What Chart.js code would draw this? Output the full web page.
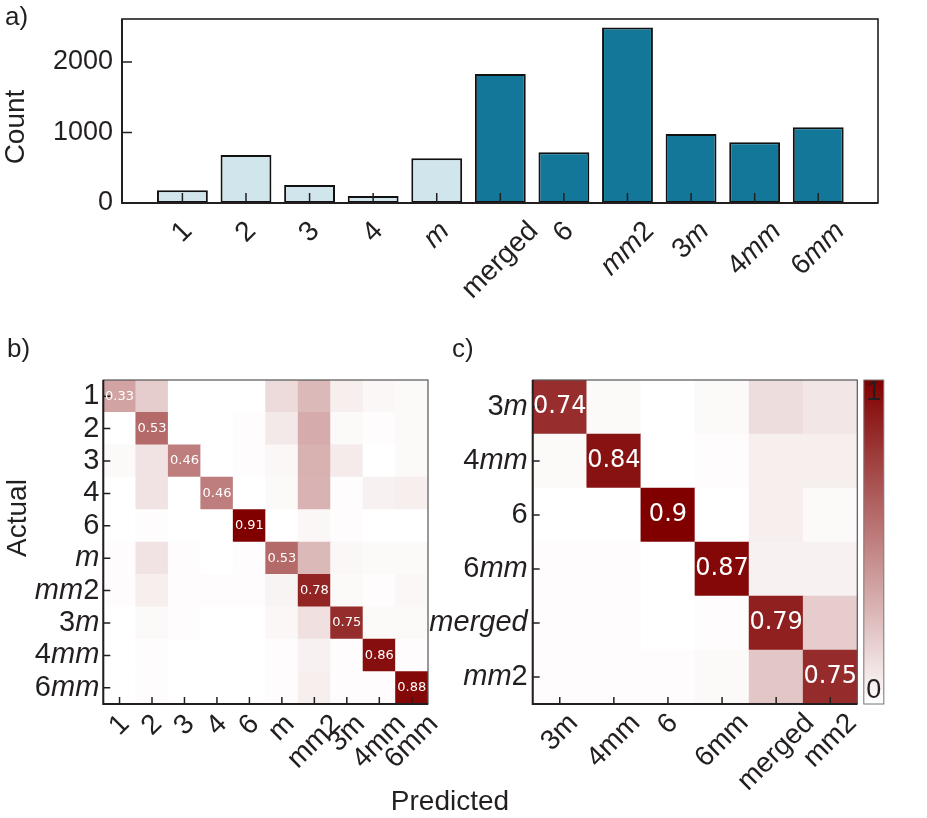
<!DOCTYPE html>
<html>
<head>
<meta charset="utf-8">
<script src="https://cdn.jsdelivr.net/npm/chart.js@4.4.0/dist/chart.umd.min.js"></script>
<style>
  html, body { margin: 0; padding: 0; background: #fff; }
  #wrap { position: relative; width: 927px; height: 818px; }
  canvas { position: absolute; }
</style>
</head>
<body>
<div id="wrap">
  <canvas id="bars" width="927" height="300" style="left:0;top:0"></canvas>
  <canvas id="cmAll" width="927" height="488" style="left:0;top:330px"></canvas>
  <canvas id="cmMerged" width="547" height="488" style="left:380px;top:330px"></canvas>
</div>
<script>
// panel a: class counts
const groups = ['1', '2', '3', '4', 'm', 'merged', '6', 'mm2', '3m', '4mm', '6mm'];
const counts = [180, 680, 255, 100, 635, 1830, 720, 2490, 980, 860, 1075];
const nLight = 5; // the first five classes end up in "merged"
const countTicks = [0, 1000, 2000];

// panel b: confusion matrix, all classes (rows = actual, cols = predicted)
const classesAll = ['1', '2', '3', '4', '6', 'm', 'mm2', '3m', '4mm', '6mm'];
const cmAll = [
  [0.33, 0.18, 0.00, 0.00, 0.00, 0.13, 0.25, 0.06, 0.03, 0.02],
  [0.00, 0.53, 0.00, 0.00, 0.01, 0.08, 0.30, 0.02, 0.01, 0.02],
  [0.02, 0.10, 0.46, 0.00, 0.01, 0.03, 0.28, 0.07, 0.00, 0.02],
  [0.00, 0.10, 0.00, 0.46, 0.00, 0.02, 0.27, 0.01, 0.05, 0.06],
  [0.00, 0.01, 0.00, 0.00, 0.91, 0.00, 0.03, 0.01, 0.00, 0.00],
  [0.01, 0.10, 0.01, 0.00, 0.01, 0.53, 0.25, 0.03, 0.02, 0.02],
  [0.01, 0.06, 0.01, 0.01, 0.01, 0.04, 0.78, 0.02, 0.01, 0.03],
  [0.00, 0.02, 0.01, 0.00, 0.00, 0.03, 0.11, 0.75, 0.02, 0.02],
  [0.00, 0.01, 0.00, 0.00, 0.00, 0.01, 0.05, 0.01, 0.86, 0.01],
  [0.00, 0.01, 0.00, 0.00, 0.00, 0.01, 0.06, 0.01, 0.01, 0.88]
];

// panel c: confusion matrix with the low-count classes merged
const classesMerged = ['3m', '4mm', '6', '6mm', 'merged', 'mm2'];
const cmMerged = [
  [0.74, 0.02, 0.00, 0.02, 0.12, 0.09],
  [0.02, 0.84, 0.00, 0.01, 0.06, 0.06],
  [0.00, 0.00, 0.90, 0.00, 0.06, 0.02],
  [0.01, 0.01, 0.00, 0.87, 0.05, 0.05],
  [0.01, 0.01, 0.00, 0.01, 0.79, 0.18],
  [0.01, 0.01, 0.01, 0.02, 0.20, 0.75]
];

const FONT = '"Liberation Sans", Arial, sans-serif';
const NUM_FONT = '"DejaVu Sans", sans-serif';
const INK = '#231f20';
const LIGHT = '#d1e5ec';
const DARK = '#127799';

function heat(v, vmax) {
  const t = Math.min(v / vmax, 1);
  const r = Math.round(255 - t * 127);
  const g = Math.round(255 * (1 - t));
  return 'rgb(' + r + ',' + g + ',' + g + ')';
}

// letters italic, digits upright (like $mm$2)
function splitLabel(text, italic) {
  if (!italic) return [{ t: text, i: false }];
  return text.match(/[A-Za-z]+|[^A-Za-z]+/g).map(t => ({ t, i: /[A-Za-z]/.test(t) }));
}
function segWidth(ctx, segs, size) {
  let w = 0;
  segs.forEach(s => { ctx.font = (s.i ? 'italic ' : '') + size + 'px ' + FONT; w += ctx.measureText(s.t).width; });
  return w;
}
function drawSegs(ctx, segs, x, y, size) {
  ctx.textAlign = 'left';
  segs.forEach(s => {
    ctx.font = (s.i ? 'italic ' : '') + size + 'px ' + FONT;
    ctx.fillText(s.t, x, y);
    x += ctx.measureText(s.t).width;
  });
}
// rotated 45 deg, bounding box centred on the tick, top at `top`
function rotLabel(ctx, text, italic, cx, top, size) {
  const segs = splitLabel(text, italic);
  const w = segWidth(ctx, segs, size);
  const side = (w + size) * Math.SQRT1_2;
  ctx.save();
  ctx.translate(cx, top + side / 2);
  ctx.rotate(-Math.PI / 4);
  ctx.textBaseline = 'middle';
  drawSegs(ctx, segs, -w / 2, 0, size);
  ctx.restore();
}
function plainText(ctx, text, x, y, size, align, rot) {
  ctx.save();
  ctx.translate(x, y);
  if (rot) ctx.rotate(rot);
  ctx.font = size + 'px ' + FONT;
  ctx.textAlign = align || 'left';
  ctx.textBaseline = rot ? 'middle' : 'alphabetic';
  ctx.fillText(text, 0, 0);
  ctx.restore();
}

// matplotlib-like axes: inward ticks, frame, tick labels
function mplAxes(o) {
  return {
    id: 'mplAxes',
    afterDatasetsDraw(chart) {
      const { ctx, chartArea: a } = chart;
      const xs = chart.scales.x, ys = chart.scales.y;
      ctx.save();
      ctx.strokeStyle = INK;
      ctx.fillStyle = INK;
      ctx.lineWidth = 1.5;
      ctx.beginPath();
      o.xTicks.forEach(v => { const px = xs.getPixelForValue(v); ctx.moveTo(px, a.bottom); ctx.lineTo(px, a.bottom - o.tickLen); });
      o.yTicks.forEach(v => { const py = ys.getPixelForValue(v); ctx.moveTo(a.left, py); ctx.lineTo(a.left + o.tickLen, py); });
      ctx.stroke();

      ctx.strokeStyle = o.frameColor;
      ctx.lineWidth = o.frameWidth;
      ctx.strokeRect(a.left, a.top, a.width, a.height);
      ctx.strokeStyle = INK;
      ctx.lineWidth = 2;
      ctx.beginPath();
      ctx.moveTo(a.left, a.top); ctx.lineTo(a.left, a.bottom); ctx.lineTo(a.right, a.bottom);
      ctx.stroke();

      o.xTicks.forEach((v, i) => {
        rotLabel(ctx, o.xLabels[i], o.xItalic(o.xLabels[i]), xs.getPixelForValue(v), a.bottom + o.xPad, o.xSize);
      });
      ctx.textBaseline = 'middle';
      o.yTicks.forEach((v, i) => {
        const segs = splitLabel(o.yLabels[i], o.yItalic);
        const w = segWidth(ctx, segs, o.ySize);
        drawSegs(ctx, segs, a.left - o.yPad - w, ys.getPixelForValue(v), o.ySize);
      });
      if (o.extra) o.extra(chart, ctx, a, xs, ys);
      ctx.restore();
    }
  };
}

const baseOpts = {
  responsive: false,
  animation: false,
  events: [],
  plugins: { legend: { display: false }, tooltip: { enabled: false } }
};

// ---- a) bar chart
new Chart(document.getElementById('bars'), {
  type: 'bar',
  data: {
    datasets: [{
      data: counts.map((v, i) => ({ x: i, y: v })),
      backgroundColor: counts.map((v, i) => i < nLight ? LIGHT : DARK),
      borderColor: '#111',
      borderWidth: 2,
      borderSkipped: false,
      categoryPercentage: 0.8,
      barPercentage: 1
    }]
  },
  options: Object.assign({}, baseOpts, {
    layout: { padding: { left: 122, right: 49, top: 19, bottom: 97 } },
    scales: {
      x: { type: 'linear', display: false, offset: false, min: -0.95, max: 10.94,
           afterBuildTicks: s => { s.ticks = groups.map((g, i) => ({ value: i })); } },
      y: { type: 'linear', display: false, min: 0, max: 2610,
           afterBuildTicks: s => { s.ticks = countTicks.map(v => ({ value: v })); } }
    }
  }),
  plugins: [mplAxes({
    xTicks: groups.map((g, i) => i), xLabels: groups, xItalic: t => t !== 'merged', xSize: 28, xPad: 14,
    yTicks: countTicks, yLabels: countTicks.map(String), yItalic: false, ySize: 27, yPad: 9,
    tickLen: 10, frameColor: '#111', frameWidth: 1.5,
    extra(chart, ctx) {
      plainText(ctx, 'a)', 5, 25, 26);
      plainText(ctx, 'Count', 16, 127, 28, 'center', -Math.PI / 2);
    }
  })]
});

// ---- b) and c) heatmaps from floating bars
function heatChart(id, classes, matrix, padding, axesOpts) {
  const n = classes.length;
  const vmax = Math.max(...matrix.flat());
  const cells = matrix.flatMap((row, r) => row.map((v, c) => ({ x: c, y: [r - 0.5, r + 0.5], v })));
  const idx = classes.map((c, i) => i);
  return new Chart(document.getElementById(id), {
    type: 'bar',
    data: {
      datasets: [{
        data: cells,
        backgroundColor: ctx => heat(ctx.raw ? ctx.raw.v : 0, vmax),
        borderWidth: 0,
        categoryPercentage: 1,
        barPercentage: 1,
        grouped: false
      }]
    },
    options: Object.assign({}, baseOpts, {
      layout: { padding },
      scales: {
        x: { type: 'linear', display: false, offset: false, min: -0.5, max: n - 0.5,
             afterBuildTicks: s => { s.ticks = idx.map(v => ({ value: v })); } },
        y: { type: 'linear', display: false, min: -0.5, max: n - 0.5, reverse: true,
             afterBuildTicks: s => { s.ticks = idx.map(v => ({ value: v })); } }
      }
    }),
    plugins: [mplAxes(Object.assign({
      xTicks: idx, xLabels: classes, xItalic: () => false,
      yTicks: idx, yLabels: classes, yItalic: true,
      tickLen: 7, frameColor: '#555', frameWidth: 1.2
    }, axesOpts))]
  });
}

function annotateDiag(ctx, matrix, xs, ys, size) {
  ctx.fillStyle = '#fff';
  ctx.font = size + 'px ' + NUM_FONT;
  ctx.textAlign = 'center';
  ctx.textBaseline = 'middle';
  matrix.forEach((row, i) => {
    ctx.fillText(String(Math.round(row[i] * 100) / 100), xs.getPixelForValue(i), ys.getPixelForValue(i));
  });
}

heatChart('cmAll', classesAll, cmAll, { left: 103.3, right: 499, top: 50, bottom: 114 }, {
  xSize: 28, xPad: 6, ySize: 29, yPad: 4,
  extra(chart, ctx, a, xs, ys) {
    annotateDiag(ctx, cmAll, xs, ys, 13);
    ctx.fillStyle = INK;
    plainText(ctx, 'b)', 7, 27, 26);
    plainText(ctx, 'Actual', 18, 188, 28, 'center', -Math.PI / 2);
    plainText(ctx, 'Predicted', 450, 480, 28, 'center');
  }
});

heatChart('cmMerged', classesMerged, cmMerged, { left: 152.7, right: 69.7, top: 50, bottom: 114 }, {
  xSize: 28, xPad: 5, ySize: 29, yPad: 5,
  extra(chart, ctx, a, xs, ys) {
    annotateDiag(ctx, cmMerged, xs, ys, 24);
    ctx.fillStyle = INK;
    plainText(ctx, 'c)', 72, 27, 26);
    // colour bar
    const cbL = a.right + 6.5, cbW = 20;
    const g = ctx.createLinearGradient(0, a.bottom, 0, a.top);
    g.addColorStop(0, heat(0, 1));
    g.addColorStop(1, heat(1, 1));
    ctx.fillStyle = g;
    ctx.fillRect(cbL, a.top, cbW, a.height);
    ctx.strokeStyle = '#777';
    ctx.lineWidth = 1;
    ctx.strokeRect(cbL, a.top, cbW, a.height);
    ctx.fillStyle = INK;
    ctx.font = '27px ' + FONT;
    ctx.textAlign = 'center';
    ctx.textBaseline = 'middle';
    ctx.fillText('1', cbL + cbW / 2, a.top + 13);
    ctx.fillText('0', cbL + cbW / 2, a.bottom - 13);
  }
});
</script>
</body>
</html>
